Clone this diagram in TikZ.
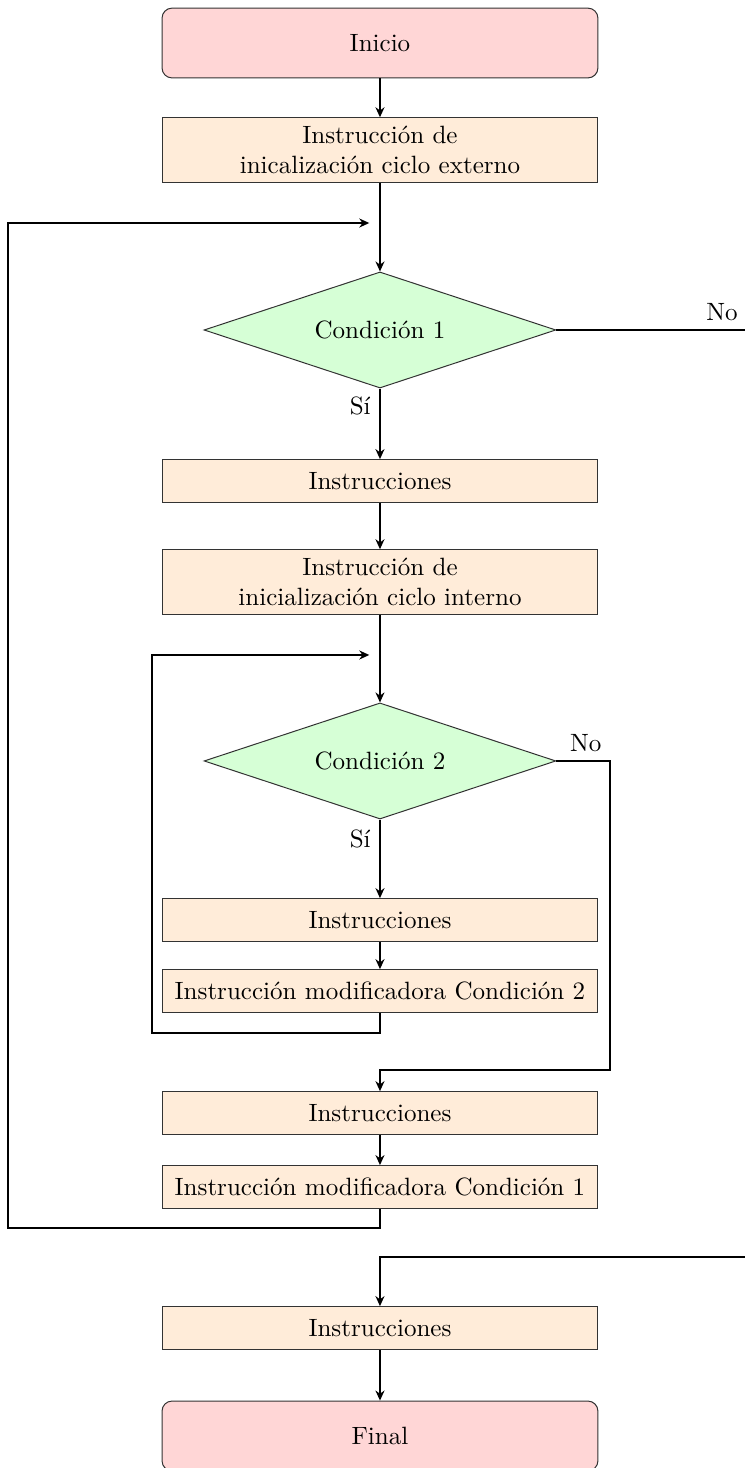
\documentclass[tikz,border=0pt]{standalone}
\usepackage{fontspec}
\usetikzlibrary{arrows.meta,shapes.geometric}

\begin{document}
\begin{tikzpicture}[
	terminal/.style={rectangle, rounded corners=4pt, draw=black!80, fill=red!16, minimum width=6.12cm, minimum height=0.98cm},
	proceso/.style={rectangle, draw=black!80, fill=orange!15, minimum width=6.12cm, minimum height=0.6cm, align=center},
	decision/.style={diamond, aspect=3.03, draw=black!80, fill=green!16, minimum width=4.94cm, minimum height=1.63cm, inner sep=0pt},
	flecha/.style={thick, -{Stealth[length=4pt,width=3.6pt]}}
]
\useasboundingbox (-5.335,0) rectangle (5.125,-20.611);

				\node[terminal] (inicio)  at (0, -0.604) {Inicio};
				\node[proceso]  (initext) at (0, -2.106) {Instrucción de\\inicalización ciclo externo};
				\coordinate     (lp1)     at (0, -3.131);
				\node[decision] (cond1)   at (0, -4.633) {Condición 1};
				\node[proceso]  (instr1)  at (0, -6.753) {Instrucciones};
				\node[proceso]  (initint) at (0, -8.171) {Instrucción de\\inicialización ciclo interno};
				\coordinate     (lp2)     at (0, -9.196);
				\node[decision] (cond2)   at (0,-10.684) {Condición 2};
				\node[proceso]  (instr2)  at (0,-12.917) {Instrucciones};
				\node[proceso]  (mod2)    at (0,-13.914) {Instrucción modificadora Condición 2};
				\node[proceso]  (instr3)  at (0,-15.627) {Instrucciones};
				\node[proceso]  (mod1)    at (0,-16.665) {Instrucción modificadora Condición 1};
				\node[proceso]  (instr4)  at (0,-18.645) {Instrucciones};
				\node[terminal] (final)   at (0,-20.161) {Final};

				% esquinas de los ciclos
				\coordinate (back2) at (-3.201,-14.503);
				\coordinate (back1) at (-5.223,-17.241);
				\coordinate (no2)   at ( 3.229,-10.684);
				\coordinate (join3) at ( 0,    -15.023);
				\coordinate (no1)   at ( 5.6,   -4.633);
				\coordinate (join4) at ( 0,    -17.649);

				\draw[flecha] (inicio)  -- (initext);
				\draw[flecha] (initext) -- (cond1);
				\draw[flecha] (cond1)   -- node[left, pos=0.25] {Sí} (instr1);
				\draw[flecha] (instr1)  -- (initint);
				\draw[flecha] (initint) -- (cond2);
				\draw[flecha] (cond2)   -- node[left, pos=0.25] {Sí} (instr2);
				\draw[flecha] (instr2)  -- (mod2);
				\draw[flecha] (instr3)  -- (mod1);
				\draw[flecha] (instr4)  -- (final);

				\draw[flecha] (cond2.east) -- node[above, pos=0.55] {No} (no2) |- (join3) -- (instr3);
				\draw[flecha] (cond1.east) -- node[above, pos=0.744] {No} (no1) |- (join4) -- (instr4);

				\draw[flecha, shorten >=0.15cm] (mod2) |- (back2) |- (lp2);
				\draw[flecha, shorten >=0.15cm] (mod1) |- (back1) |- (lp1);

\end{tikzpicture}
\end{document}
